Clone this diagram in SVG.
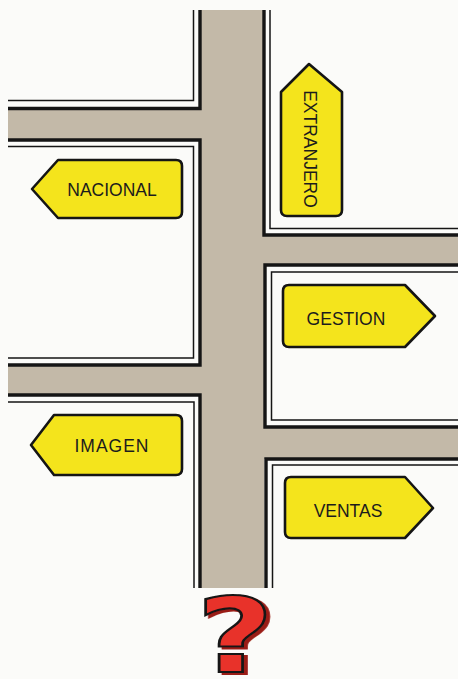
<svg xmlns="http://www.w3.org/2000/svg" width="458" height="679" viewBox="0 0 458 679">
<style>
.road{fill:#c3b9a8}
.thick{fill:none;stroke:#151515;stroke-width:3.4}
.thin{fill:none;stroke:#151515;stroke-width:1.5}
.sign{fill:#f4e41c;stroke:#151515;stroke-width:2.6;stroke-linejoin:round}
.lbl{font-family:"Liberation Sans",Arial,sans-serif;font-size:17.5px;fill:#1c1c1c;text-anchor:middle}
</style>
<defs>
<filter id="sh" x="-20%" y="-20%" width="140%" height="140%">
<feDropShadow dx="3" dy="2" stdDeviation="0" flood-color="#9a1a14"/>
</filter>
</defs>
<rect width="458" height="679" fill="#fbfbf9"/>
<g id="roads">
<rect class="road" x="201" y="10" width="63" height="578"/>
<rect class="road" x="8" y="109" width="194" height="31"/>
<rect class="road" x="8" y="365" width="194" height="31"/>
<rect class="road" x="263" y="235" width="195" height="30"/>
<rect class="road" x="263" y="427" width="195" height="32"/>
</g>
<g id="connectors">
<path class="thick" d="M8,108.5 H200 V10"/>
<path class="thin" d="M8,100.5 H193.5 V10"/>
<path class="thick" d="M8,140 H200 V365 H8"/>
<path class="thin" d="M8,146.5 H193.5 V358 H8"/>
<path class="thick" d="M8,395 H200 V588"/>
<path class="thin" d="M8,402 H194 V588"/>
<path class="thick" d="M264,10 V235 H458"/>
<path class="thin" d="M270,10 V228.5 H458"/>
<path class="thick" d="M458,265 H265 V427 H458"/>
<path class="thin" d="M458,272 H271.5 V420 H458"/>
<path class="thick" d="M458,459 H266 V588"/>
<path class="thin" d="M458,465 H272.5 V588"/>
</g>
<g id="nacional">
<path class="sign" d="M58,160 H176 Q182,160 182,166 V212 Q182,218 176,218 H58 L32,189 Z"/>
<text class="lbl" x="112" y="196">NACIONAL</text>
</g>
<g id="extranjero">
<path class="sign" d="M309,64 L342,92 V210 Q342,216 336,216 H287 Q281,216 281,210 V92 Z"/>
<text class="lbl" transform="translate(304,149) rotate(90)" x="0" y="0">EXTRANJERO</text>
</g>
<g id="gestion">
<path class="sign" d="M289,285 H405 L435,316 L405,347 H289 Q283,347 283,341 V291 Q283,285 289,285 Z"/>
<text class="lbl" x="346" y="325">GESTION</text>
</g>
<g id="imagen">
<path class="sign" d="M54,415 H176 Q182,415 182,421 V469 Q182,475 176,475 H54 L31,445 Z"/>
<text class="lbl" x="112" y="452" letter-spacing="1">IMAGEN</text>
</g>
<g id="ventas">
<path class="sign" d="M291,477 H405 L433,508 L405,538 H291 Q285,538 285,532 V483 Q285,477 291,477 Z"/>
<text class="lbl" x="348" y="517">VENTAS</text>
</g>
<g id="question">
<text transform="translate(235,672) scale(1.28,1)" x="0" y="0" font-family="DejaVu Sans,sans-serif" font-weight="bold" font-size="104" text-anchor="middle" fill="#e8322c" stroke="#151515" stroke-width="2.2" filter="url(#sh)">?</text>
</g>
</svg>
